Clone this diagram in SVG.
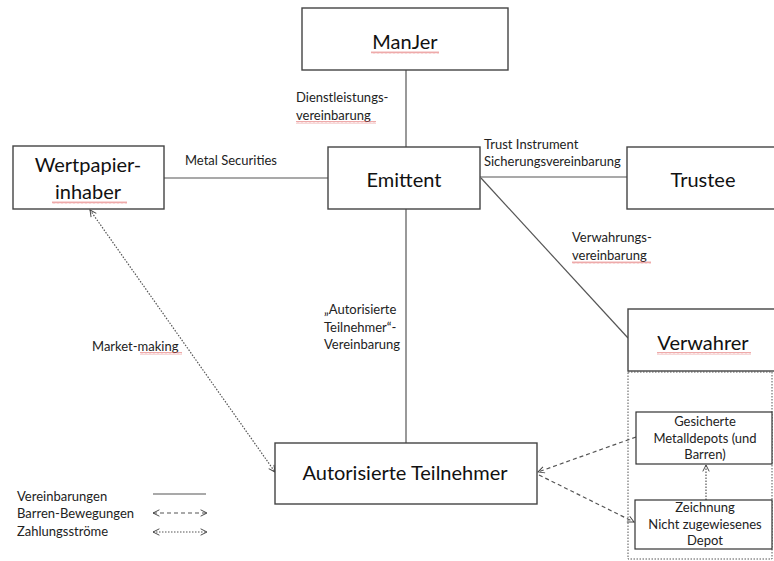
<svg xmlns="http://www.w3.org/2000/svg" width="774" height="561" viewBox="0 0 774 561">
<style>
  .box{fill:#fff;stroke:#444;stroke-width:1.4}
  .small{fill:#fff;stroke:#333;stroke-width:1.2}
  .big{font-family:Lato,"Liberation Sans",sans-serif;font-size:20px;fill:#111;text-anchor:middle}
  .lbl{font-family:Lato,"Liberation Sans",sans-serif;font-size:13px;fill:#222}
  .mid{text-anchor:middle}
  .solid{stroke:#555;stroke-width:1.2;fill:none}
  .dash{stroke:#555;stroke-width:1.2;fill:none;stroke-dasharray:4 3}
  .dot{stroke:#555;stroke-width:1.2;fill:none;stroke-dasharray:1.5 1.5}
  .sq{fill:url(#wave)}
</style>
<defs>
  <marker id="arr" viewBox="0 0 10 10" refX="9" refY="5" markerWidth="8" markerHeight="8" markerUnits="userSpaceOnUse" orient="auto-start-reverse">
    <path d="M1,1 L9,5 L1,9" fill="none" stroke="#444" stroke-width="1.2"/>
  </marker>
  <pattern id="wave" width="4" height="3" patternUnits="userSpaceOnUse">
    <path d="M0,2.5 L1,0.5 L2,2.5 L3,0.5 L4,2.5" fill="none" stroke="#d55" stroke-width="0.5"/>
  </pattern>
</defs>
<rect width="774" height="561" fill="#fff"/>

<g id="connectors">
  <line class="solid" x1="406" y1="70" x2="406" y2="147"/>
  <line class="solid" x1="406" y1="209" x2="406" y2="443"/>
  <line class="solid" x1="164" y1="178" x2="328" y2="178"/>
  <line class="solid" x1="480" y1="177" x2="627" y2="177"/>
  <line class="solid" x1="481" y1="178" x2="628" y2="338"/>
  <line class="dot" x1="90" y1="210" x2="275" y2="472" marker-start="url(#arr)" marker-end="url(#arr)"/>
  <line class="dash" x1="636" y1="437" x2="538" y2="472" marker-end="url(#arr)"/>
  <line class="dash" x1="539" y1="475" x2="634" y2="522" marker-end="url(#arr)"/>
  <line class="dot" x1="706" y1="500" x2="706" y2="465" marker-end="url(#arr)"/>
  <text class="lbl" x="296" y="102">Dienstleistungs-</text>
  <text class="lbl" x="296" y="120">vereinbarung</text>
  <rect class="sq" x="296" y="121" width="80" height="3"/>
  <text class="lbl" x="185" y="165">Metal Securities</text>
  <text class="lbl" x="484" y="149">Trust Instrument</text>
  <text class="lbl" x="484" y="166">Sicherungsvereinbarung</text>
  <text class="lbl" x="572" y="242">Verwahrungs-</text>
  <text class="lbl" x="572" y="260">vereinbarung</text>
  <rect class="sq" x="572" y="261" width="79" height="3"/>
  <text class="lbl" x="324" y="314">„Autorisierte</text>
  <text class="lbl" x="324" y="332">Teilnehmer“-</text>
  <text class="lbl" x="324" y="349">Vereinbarung</text>
  <text class="lbl" x="92" y="351">Market-making</text>
  <rect class="sq" x="140" y="352" width="42" height="3"/>
</g>

<g id="manjer">
  <rect class="box" x="302" y="8" width="206" height="62"/>
  <text class="big" x="405" y="49">ManJer</text>
  <rect class="sq" x="371" y="51" width="68" height="3"/>
</g>
<g id="emittent">
  <rect class="box" x="328" y="147" width="152" height="62"/>
  <text class="big" x="404" y="187">Emittent</text>
</g>
<g id="wertpapierinhaber">
  <rect class="box" x="13" y="146" width="151" height="63"/>
  <text class="big" x="88" y="172">Wertpapier-</text>
  <text class="big" x="88" y="199">inhaber</text>
  <rect class="sq" x="52" y="201" width="75" height="3"/>
</g>
<g id="trustee">
  <rect class="box" x="627" y="147" width="150" height="62"/>
  <text class="big" x="703" y="187">Trustee</text>
</g>
<g id="verwahrer">
  <rect class="box" x="628" y="309" width="149" height="62"/>
  <text class="big" x="703" y="350">Verwahrer</text>
  <rect class="sq" x="657" y="352" width="94" height="3"/>
</g>
<g id="depotbereich">
  <rect x="628" y="372" width="144" height="187" fill="none" stroke="#555" stroke-width="1" stroke-dasharray="1.5 1.5"/>
</g>
<g id="gesicherte">
  <rect class="small" x="636" y="412" width="136" height="52"/>
  <text class="lbl mid" x="705" y="426">Gesicherte</text>
  <text class="lbl mid" x="705" y="443">Metalldepots (und</text>
  <text class="lbl mid" x="705" y="459">Barren)</text>
</g>
<g id="zeichnung">
  <rect class="small" x="635" y="500" width="137" height="49"/>
  <text class="lbl mid" x="705" y="512">Zeichnung</text>
  <text class="lbl mid" x="705" y="529">Nicht zugewiesenes</text>
  <text class="lbl mid" x="705" y="545">Depot</text>
</g>
<g id="autorisierte">
  <rect class="box" x="275" y="443" width="262" height="61"/>
  <text class="big" x="405" y="480">Autorisierte Teilnehmer</text>
</g>

<g id="legend">
  <text class="lbl" x="17" y="501">Vereinbarungen</text>
  <text class="lbl" x="17" y="518">Barren-Bewegungen</text>
  <text class="lbl" x="17" y="536">Zahlungsströme</text>
  <line class="solid" x1="153" y1="494" x2="206" y2="494"/>
  <line class="dash" x1="153" y1="513" x2="207" y2="513" marker-start="url(#arr)" marker-end="url(#arr)"/>
  <line class="dot" x1="153" y1="532" x2="207" y2="532" marker-start="url(#arr)" marker-end="url(#arr)"/>
</g>
</svg>
